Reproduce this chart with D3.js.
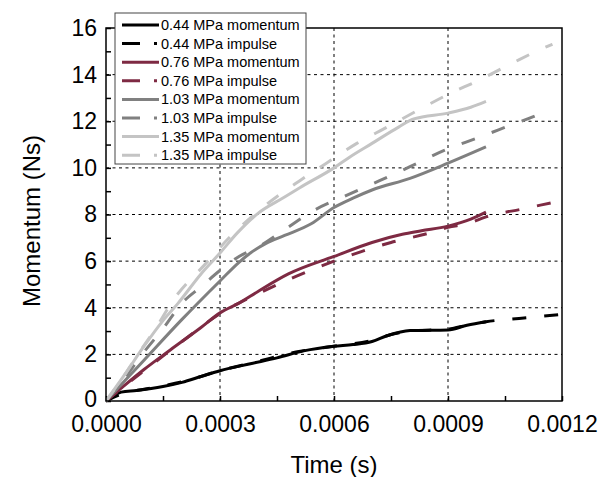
<!DOCTYPE html>
<html>
<head>
<meta charset="utf-8">
<script src="https://cdn.jsdelivr.net/npm/d3@7"></script>
<style>
  body { margin: 0; background: #fff; }
  text { font-family: Arial, "Liberation Sans", sans-serif; fill: #000; }
</style>
</head>
<body>
<div id="chart"></div>
<script>
// Values (time in s, momentum in Ns)
const xTicks = [0, 0.0003, 0.0006, 0.0009, 0.0012];
const yTicks = [0, 2, 4, 6, 8, 10, 12, 14, 16];

const t044m = [0, 0.00004, 0.00008, 0.00015, 0.0002, 0.00025, 0.0003, 0.00038, 0.00045, 0.00052, 0.0006, 0.00065, 0.0007, 0.00074, 0.0008, 0.0009, 0.00095, 0.001];
const v044m = [0, 0.38, 0.45, 0.62, 0.8, 1.05, 1.3, 1.6, 1.85, 2.15, 2.35, 2.42, 2.55, 2.8, 3.02, 3.05, 3.25, 3.4];
const t044i = [0, 0.00005, 0.0001, 0.00015, 0.0002, 0.0003, 0.0004, 0.0005, 0.0006, 0.0007, 0.00075, 0.0008, 0.0009, 0.00095, 0.001, 0.0011, 0.0012];
const v044i = [0, 0.35, 0.5, 0.65, 0.82, 1.3, 1.7, 2.1, 2.35, 2.6, 2.85, 3.0, 3.08, 3.25, 3.4, 3.56, 3.72];

const t076m = [0, 0.00004, 0.0001, 0.00017, 0.00025, 0.0003, 0.00035, 0.0004, 0.00048, 0.0006, 0.0007, 0.00078, 0.00083, 0.0009, 0.00096, 0.001];
const v076m = [0, 0.55, 1.35, 2.2, 3.15, 3.78, 4.2, 4.7, 5.45, 6.2, 6.8, 7.15, 7.3, 7.5, 7.8, 8.1];
const t076i = [0, 0.0001, 0.0002, 0.0003, 0.0004, 0.0005, 0.0006, 0.00067, 0.00075, 0.00085, 0.0009, 0.00095, 0.001, 0.0011, 0.0012];
const v076i = [0, 1.3, 2.55, 3.75, 4.6, 5.35, 6.0, 6.4, 6.8, 7.2, 7.45, 7.6, 7.9, 8.25, 8.6];

const t103m = [0, 0.0001, 0.0002, 0.0003, 0.00035, 0.00038, 0.00042, 0.00047, 0.00054, 0.0006, 0.00065, 0.0007, 0.0008, 0.0009, 0.001];
const v103m = [0, 1.75, 3.5, 5.15, 5.95, 6.35, 6.75, 7.1, 7.6, 8.3, 8.7, 9.05, 9.55, 10.2, 10.9];
const t103i = [0, 0.00005, 0.0001, 0.00015, 0.0002, 0.00025, 0.0003, 0.00035, 0.0004, 0.00047, 0.00055, 0.00063, 0.00072, 0.0008, 0.00089, 0.00098, 0.00106, 0.00114, 0.00116];
const v103i = [0, 1.0, 2.1, 3.1, 4.2, 4.9, 5.6, 6.2, 6.6, 7.35, 8.2, 8.8, 9.45, 10.05, 10.75, 11.3, 11.8, 12.3, 12.45];

const t135m = [0, 0.00005, 0.0001, 0.00015, 0.00019, 0.00025, 0.0003, 0.000345, 0.0004, 0.00047, 0.00051, 0.0006, 0.00064, 0.0007, 0.00077, 0.00081, 0.0009, 0.00096, 0.001];
const v135m = [0, 1.15, 2.35, 3.45, 4.2, 5.45, 6.35, 7.2, 8.05, 8.75, 9.15, 10.0, 10.45, 11.05, 11.75, 12.1, 12.35, 12.6, 12.85];
const t135i = [0, 0.00004, 0.00008, 0.00013, 0.00018, 0.00026, 0.00033, 0.00042, 0.00051, 0.00058, 0.00066, 0.00074, 0.00083, 0.0009, 0.00098, 0.00107, 0.00116, 0.001175];
const v135i = [0, 0.9, 1.9, 3.1, 4.4, 5.85, 7.1, 8.4, 9.45, 10.2, 11.05, 11.75, 12.55, 13.15, 13.75, 14.5, 15.2, 15.3];

const seriesNames = ["0.44 MPa momentum", "0.44 MPa impulse", "0.76 MPa momentum", "0.76 MPa impulse",
                     "1.03 MPa momentum", "1.03 MPa impulse", "1.35 MPa momentum", "1.35 MPa impulse"];
const seriesTimes = [t044m, t044i, t076m, t076i, t103m, t103i, t135m, t135i];
const seriesValues = [v044m, v044i, v076m, v076i, v103m, v103i, v135m, v135i];
const seriesColors = ["#000000", "#000000", "#7e2a43", "#7e2a43", "#808080", "#808080", "#c4c4c4", "#c4c4c4"];

const series = seriesNames.map((name, i) => ({
	name: name,
	dashed: name.indexOf("impulse") >= 0,
	color: seriesColors[i],
	points: seriesTimes[i].map((t, j) => [t, seriesValues[i][j]])
}));

const margin = {"top": 28, "right": 46, "bottom": 76, "left": 106};
const width = 608 - margin.left - margin.right;
const height = 477 - margin.top - margin.bottom;

const svg = d3.select("#chart")
	.append("svg")
	.attr("width", 608)
	.attr("height", 477);

const g = svg.append("g")
	.attr("transform", "translate(" + margin.left + "," + margin.top + ")");

const x = d3.scaleLinear().domain([0, 0.0012]).range([0, width]);
const y = d3.scaleLinear().domain([0, 16]).range([height, 0]);

// dotted grid
g.selectAll(".gx")
	.data(xTicks.slice(1, -1))
	.enter()
	.append("line")
	.attr("x1", (d) => x(d)).attr("x2", (d) => x(d))
	.attr("y1", 0).attr("y2", height)
	.attr("stroke", "#000").attr("stroke-width", 1)
	.attr("stroke-dasharray", "3,3.5");
g.selectAll(".gy")
	.data(yTicks.slice(1, -1))
	.enter()
	.append("line")
	.attr("x1", 0).attr("x2", width)
	.attr("y1", (d) => y(d)).attr("y2", (d) => y(d))
	.attr("stroke", "#000").attr("stroke-width", 1)
	.attr("stroke-dasharray", "3,3.5");

// axes, ticks pointing inward
const xAxis = g.append("g")
	.attr("transform", "translate(0," + height + ")")
	.call(d3.axisBottom(x).tickValues(d3.range(0, 9).map((i) => i * 0.00015)).tickSize(-5).tickFormat(""));
const xLabels = g.append("g")
	.attr("transform", "translate(0," + height + ")")
	.call(d3.axisBottom(x).tickValues(xTicks).tickSize(0).tickPadding(15).tickFormat(d3.format(".4f")));
const yAxis = g.append("g")
	.call(d3.axisLeft(y).tickValues(d3.range(0, 17)).tickSize(-5).tickFormat(""));
const yLabels = g.append("g")
	.call(d3.axisLeft(y).tickValues(yTicks).tickSize(0).tickPadding(9).tickFormat(d3.format("d")));

[xAxis, yAxis].forEach((a) => {
	a.select(".domain").remove();
	a.selectAll("line").attr("stroke", "#000").attr("stroke-width", 1.5);
});
[xLabels, yLabels].forEach((a) => {
	a.select(".domain").remove();
	a.selectAll("text").style("font-size", "23px").attr("fill", "#000");
});
// keep the corner "0" clear of "0.0000"
yLabels.selectAll("text").filter((d) => d === 0).attr("y", -2);

const line = d3.line()
	.x((d) => x(d[0]))
	.y((d) => y(d[1]))
	.curve(d3.curveMonotoneX);

g.selectAll(".series")
	.data(series)
	.enter()
	.append("path")
	.attr("d", (s) => line(s.points))
	.attr("fill", "none")
	.attr("stroke", (s) => s.color)
	.attr("stroke-width", 3)
	.attr("stroke-dasharray", (s) => s.dashed ? "14,18" : null);

// frame
g.append("rect")
	.attr("width", width)
	.attr("height", height)
	.attr("fill", "none")
	.attr("stroke", "#000")
	.attr("stroke-width", 1.5);

// axis titles
svg.append("text")
	.attr("x", margin.left + width / 2)
	.attr("y", 473)
	.attr("text-anchor", "middle")
	.style("font-size", "24px")
	.text("Time (s)");
svg.append("text")
	.attr("transform", "translate(40,221) rotate(-90)")
	.attr("text-anchor", "middle")
	.style("font-size", "24px")
	.text("Momentum (Ns)");

// legend
const legend = svg.append("g").attr("transform", "translate(115,13)");
legend.append("rect")
	.attr("width", 191)
	.attr("height", 151)
	.attr("fill", "#fff")
	.attr("stroke", "#444")
	.attr("stroke-width", 1);

const rows = legend.selectAll(".row")
	.data(series)
	.enter()
	.append("g")
	.attr("transform", (s, i) => "translate(0," + (12 + i * 18.6) + ")");
rows.append("line")
	.attr("x1", 7).attr("x2", 44)
	.attr("stroke", (s) => s.color)
	.attr("stroke-width", 3)
	.attr("stroke-dasharray", (s) => s.dashed ? "18,14,3,10" : null);
rows.append("text")
	.attr("x", 46)
	.attr("y", 5)
	.style("font-size", "14.5px")
	.text((s) => s.name);
</script>
</body>
</html>
